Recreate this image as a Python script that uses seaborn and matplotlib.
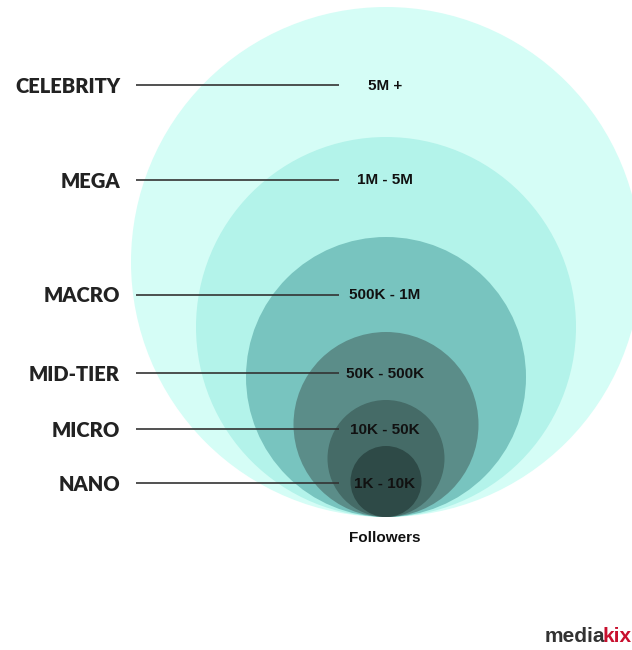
import matplotlib.pyplot as plt
from matplotlib.patches import Circle
import seaborn as sns

# tiers, outermost first
tiers = ['CELEBRITY', 'MEGA', 'MACRO', 'MID-TIER', 'MICRO', 'NANO']
ranges = ['5M +', '1M - 5M', '500K - 1M', '50K - 500K', '10K - 50K', '1K - 10K']
radius = [255, 190, 140, 92.5, 58.5, 35.5]
label_y = [85, 180, 294.5, 373, 429, 483]
colors = ['#d5fdf6', '#b3f3ea', '#78c4bf', '#5b8d89', '#456b67', '#2e4a47']

sns.set_theme(style="white")

fig = plt.figure(figsize=(6.32, 6.5), dpi=100)
ax = fig.add_axes([0, 0, 1, 1])
ax.set_xlim(0, 632)
ax.set_ylim(650, 0)
ax.set_aspect('equal')
ax.axis('off')

cx, bottom = 386, 517
for r, c in zip(radius, colors):
    ax.add_patch(Circle((cx, bottom - r), r, facecolor=c, edgecolor='none'))

for name, rng, y in zip(tiers, ranges, label_y):
    ax.plot([136, 339], [y, y], color='#333333', lw=1.2, solid_capstyle='butt')
    ax.text(120, y + 1.5, name, ha='right', va='center', fontsize=14.5,
            fontweight='heavy', family='Lato', color='#222222')
    ax.text(385, y + 0.5, rng, ha='center', va='center', fontsize=11,
            fontweight='bold', family='Liberation Sans', color='#111111')

ax.text(385, 538, 'Followers', ha='center', va='center', fontsize=11,
        fontweight='bold', family='Liberation Sans', color='#111111')

# logo
t = ax.text(545, 636, 'media', ha='left', va='center', fontsize=15,
            fontweight='bold', family='Liberation Sans', color='#333333')
ax.annotate('kix', xy=(1, 0), xycoords=t, xytext=(-2, 0), textcoords='offset points',
            ha='left', va='bottom', fontsize=15, fontweight='bold',
            family='Liberation Sans', color='#c8102e')

fig.savefig('out.png', dpi=100, facecolor='white')
